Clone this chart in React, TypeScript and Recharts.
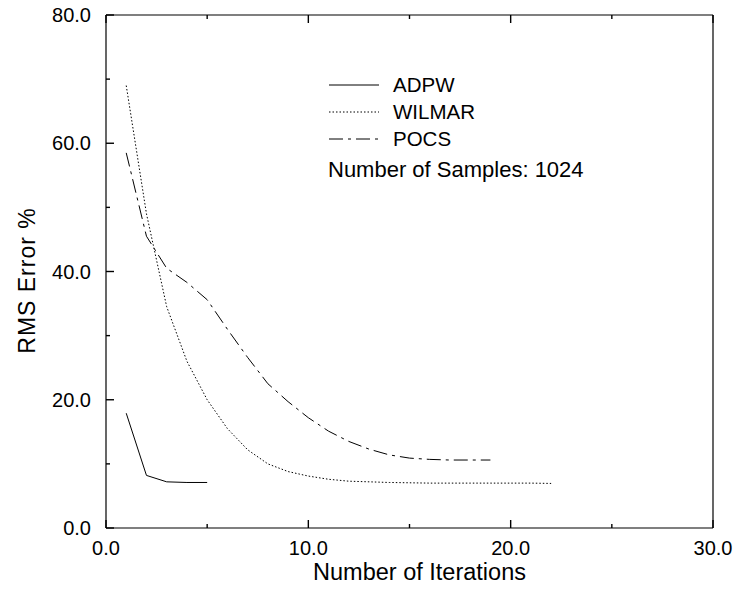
import React from 'react'
import { LineChart, Line, XAxis, YAxis, Legend } from 'recharts'

const iterations = [1, 2, 3, 4, 5, 6, 7, 8, 9, 10, 11, 12, 13, 14, 15, 16, 17, 18, 19, 20, 21, 22]
const adpw = [17.9, 8.2, 7.2, 7.1, 7.1]
const wilmar = [69.0, 49.0, 34.5, 26.0, 20.0, 15.5, 12.2, 10.0, 8.8, 8.1, 7.6, 7.3, 7.2, 7.1, 7.05, 7.0, 7.0, 7.0, 7.0, 7.0, 7.0, 6.95]
const pocs = [58.5, 45.5, 40.5, 38.3, 35.6, 31.0, 26.6, 22.5, 19.7, 17.2, 15.1, 13.5, 12.3, 11.4, 10.9, 10.7, 10.6, 10.6, 10.6]

const xTicks = [0, 5, 10, 15, 20, 25, 30]
const yTicks = [0, 10, 20, 30, 40, 50, 60, 70, 80]

const seriesNames = ['ADPW', 'WILMAR', 'POCS']
const seriesDash = ['', '1.5 2', '14 5 3 5']
const samplesLabel = 'Number of Samples: 1024'

const rows = iterations.map((it, i) => ({
  it,
  adpw: adpw[i],
  wilmar: wilmar[i],
  pocs: pocs[i],
}))

const FONT = '"Liberation Sans", Arial, Helvetica, sans-serif'
const TICK_W = 1.4

// plot frame
const LEFT = 106
const RIGHT = 713
const TOP = 15
const BOTTOM = 528

function BottomTick(props: any) {
  const { x, payload } = props
  const major = payload.value % 10 === 0
  return (
    <g>
      <line x1={x} y1={BOTTOM} x2={x} y2={BOTTOM - (major ? 8 : 4)} stroke="#000" strokeWidth={TICK_W} />
      {major && (
        <text x={x} y={BOTTOM + 27} textAnchor="middle" fontSize={20} fontFamily={FONT} fill="#000">
          {payload.value.toFixed(1)}
        </text>
      )}
    </g>
  )
}

function TopTick(props: any) {
  const { x, payload } = props
  const major = payload.value % 10 === 0
  return <line x1={x} y1={TOP} x2={x} y2={TOP + (major ? 8 : 4)} stroke="#000" strokeWidth={TICK_W} />
}

function LeftTick(props: any) {
  const { y, payload } = props
  const major = payload.value % 20 === 0
  return (
    <g>
      <line x1={LEFT} y1={y} x2={LEFT + (major ? 8 : 4)} y2={y} stroke="#000" strokeWidth={TICK_W} />
      {major && (
        <text x={LEFT - 15} y={y + 7} textAnchor="end" fontSize={20} fontFamily={FONT} fill="#000">
          {payload.value.toFixed(1)}
        </text>
      )}
    </g>
  )
}

function RightTick(props: any) {
  const { y, payload } = props
  const major = payload.value % 20 === 0
  return <line x1={RIGHT} y1={y} x2={RIGHT - (major ? 8 : 4)} y2={y} stroke="#000" strokeWidth={TICK_W} />
}

function YLabel() {
  const cx = 26.5
  const cy = 280.5
  return (
    <text
      x={cx}
      y={cy}
      transform={`rotate(-90 ${cx} ${cy})`}
      textAnchor="middle"
      dominantBaseline="central"
      fontSize={23}
      letterSpacing={1}
      fontFamily={FONT}
      fill="#000"
    >
      RMS Error %
    </text>
  )
}

function XLabel() {
  return (
    <text x={419.5} y={580} textAnchor="middle" fontSize={23.5} fontFamily={FONT} fill="#000">
      Number of Iterations
    </text>
  )
}

function LegendBox() {
  return (
    <div style={{ fontFamily: FONT, color: '#000' }}>
      {seriesNames.map((name, i) => (
        <div key={name} style={{ display: 'flex', alignItems: 'center', height: 27 }}>
          <svg width={52} height={4} style={{ marginRight: 13 }}>
            <line x1={1} y1={2} x2={51} y2={2} stroke="#000" strokeDasharray={seriesDash[i] || undefined} />
          </svg>
          <span style={{ fontSize: 20.5 }}>{name}</span>
        </div>
      ))}
      <div style={{ height: 27, marginTop: 4, display: 'flex', alignItems: 'center', fontSize: 22, whiteSpace: 'nowrap' }}>
        {samplesLabel}
      </div>
    </div>
  )
}

export default function App() {
  return (
    <div style={{ position: 'absolute', left: 0, top: 0, width: 739, height: 592, background: '#fff' }}>
      <LineChart width={739} height={592} data={rows} margin={{ top: TOP - 1, right: 739 - RIGHT - 1, bottom: 0, left: 0 }}>
        <XAxis
          xAxisId={0}
          dataKey="it"
          type="number"
          domain={[0, 30]}
          ticks={xTicks}
          interval={0}
          height={592 - BOTTOM}
          tickLine={false}
          axisLine={{ stroke: '#000', strokeWidth: 1.2 }}
          tick={<BottomTick />}
          label={<XLabel />}
        />
        <XAxis
          xAxisId="top"
          orientation="top"
          dataKey="it"
          type="number"
          domain={[0, 30]}
          ticks={xTicks}
          interval={0}
          height={1}
          tickLine={false}
          axisLine={{ stroke: '#000', strokeWidth: 1.2 }}
          tick={<TopTick />}
        />
        <YAxis
          yAxisId={0}
          type="number"
          domain={[0, 80]}
          ticks={yTicks}
          interval={0}
          width={LEFT}
          tickLine={false}
          axisLine={{ stroke: '#000', strokeWidth: 1.2 }}
          tick={<LeftTick />}
          label={<YLabel />}
        />
        <YAxis
          yAxisId="right"
          orientation="right"
          type="number"
          domain={[0, 80]}
          ticks={yTicks}
          interval={0}
          width={1}
          tickLine={false}
          axisLine={{ stroke: '#000', strokeWidth: 1.2 }}
          tick={<RightTick />}
        />
        <Legend
          layout="vertical"
          align="center"
          verticalAlign="middle"
          content={<LegendBox />}
          wrapperStyle={{ left: 328, top: 71.5, width: 300, height: 'auto' }}
        />
        <Line dataKey="adpw" type="linear" stroke="#000" strokeWidth={1} dot={false} isAnimationActive={false} />
        <Line dataKey="wilmar" type="linear" stroke="#000" strokeWidth={1} strokeDasharray="1.5 2" dot={false} isAnimationActive={false} />
        <Line dataKey="pocs" type="linear" stroke="#000" strokeWidth={1} strokeDasharray="14 5 3 5" dot={false} isAnimationActive={false} />
      </LineChart>
    </div>
  )
}
